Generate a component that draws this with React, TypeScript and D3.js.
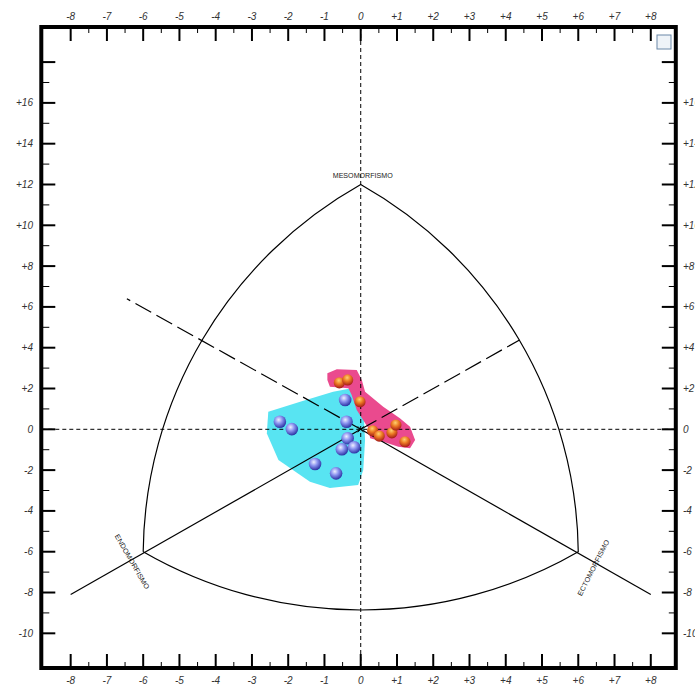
import React from "react";
import * as d3 from "d3";

// ---- data ----
const xMajorTicks = [-8, -7, -6, -5, -4, -3, -2, -1, 0, 1, 2, 3, 4, 5, 6, 7, 8];
const xMinorTicks = [-7.5, -6.5, -5.5, -4.5, -3.5, -2.5, -1.5, -0.5, 0.5, 1.5, 2.5, 3.5, 4.5, 5.5, 6.5, 7.5];
const yMajorTicks = [-10, -8, -6, -4, -2, 0, 2, 4, 6, 8, 10, 12, 14, 16, 18];
const yMinorTicks = [-9, -7, -5, -3, -1, 1, 3, 5, 7, 9, 11, 13, 15, 17];
const yLabelTicks = [-10, -8, -6, -4, -2, 0, 2, 4, 6, 8, 10, 12, 14, 16];

const apexNames = ["ENDOMORFISMO", "MESOMORFISMO", "ECTOMORFISMO"];
const apexX = [-6, 0, 6];
const apexY = [-6, 12, -6];

// blue group
const blueX = [-0.43, -0.39, -2.23, -1.9, -0.36, -0.52, -0.18, -1.26, -0.68];
const blueY = [1.44, 0.37, 0.37, 0.01, -0.44, -0.98, -0.88, -1.7, -2.16];
// orange group
const orangeX = [-0.59, -0.36, -0.02, 0.33, 0.51, 0.86, 0.97, 1.22];
const orangeY = [2.28, 2.42, 1.35, -0.07, -0.33, -0.17, 0.21, -0.61];

// hull areas
const cyanX = [-0.25, 0.06, 0.12, 0.07, -0.07, -0.85, -1.4, -2.27, -2.59, -2.55, -1.67, -0.76];
const cyanY = [2.01, 1.44, -0.52, -2.0, -2.73, -2.88, -2.57, -1.5, -0.2, 0.86, 1.35, 1.84];
const pinkX = [-0.92, -0.66, -0.11, 0.03, 0.12, 0.62, 1.08, 1.36, 1.5, 1.36, 1.04, 0.62, 0.26, 0.21, -0.11, -0.25, -0.34, -0.85, -0.92];
const pinkY = [2.75, 2.94, 2.91, 2.42, 1.84, 1.11, 0.54, 0.13, -0.52, -0.93, -0.85, -0.61, -0.44, 0.05, 0.95, 1.68, 2.01, 2.09, 2.42];

// reference axes: solid outer part, dashed inner part
const solidLineX1 = [-8, 8];
const solidLineY1 = [-8.1, -8.1];
const dashLineX2 = [4.38, -6.45];
const dashLineY2 = [4.38, 6.4];

const fmt = (v: number) => (v > 0 ? "+" + v : String(v));

export default function App() {
  const x = d3.scaleLinear().domain([-8.81, 8.69]).range([41.3, 675.8]);
  const y = d3.scaleLinear().domain([-11.7, 19.72]).range([668, 27]);
  const left = x(-8.81), right = x(8.69), top = y(19.72), bottom = y(-11.7);
  const x0 = x(0), y0 = y(0);

  const pts = apexX.map((v, i) => [x(v), y(apexY[i])] as [number, number]);
  const dist = (a: number[], b: number[]) => Math.hypot(a[0] - b[0], a[1] - b[1]);
  const r01 = dist(pts[0], pts[1]);
  const r12 = dist(pts[1], pts[2]);
  const r20 = dist(pts[2], pts[0]);
  const arcPath =
    `M${pts[0][0]},${pts[0][1]} A${r01},${r01} 0 0 1 ${pts[1][0]},${pts[1][1]} ` +
    `A${r12},${r12} 0 0 1 ${pts[2][0]},${pts[2][1]} ` +
    `A${r20},${r20} 0 0 1 ${pts[0][0]},${pts[0][1]}`;

  const lineGen = d3.line<[number, number]>().x((d) => x(d[0])).y((d) => y(d[1])).curve(d3.curveLinearClosed);
  const cyanPath = lineGen(cyanX.map((v, i) => [v, cyanY[i]] as [number, number])) || "";
  const pinkPath = lineGen(pinkX.map((v, i) => [v, pinkY[i]] as [number, number])) || "";

  const tickFont = { fontFamily: "'Liberation Sans', Arial, sans-serif", fontStyle: "italic" as const, fontSize: 10, fill: "#333" };
  const labelFont = { fontFamily: "'Liberation Sans', Arial, sans-serif", fontSize: 7, fill: "#222" };

  return (
    <svg width={695} height={688} style={{ position: "absolute", left: 0, top: 0, background: "#fff" }}>
      <defs>
        <radialGradient id="gBlue" cx="40%" cy="35%" r="65%">
          <stop offset="0%" stopColor="#eef0ff" />
          <stop offset="45%" stopColor="#8c94f0" />
          <stop offset="100%" stopColor="#2c34a4" />
        </radialGradient>
        <radialGradient id="gOrange" cx="45%" cy="30%" r="70%">
          <stop offset="0%" stopColor="#ffd070" />
          <stop offset="45%" stopColor="#ec7a24" />
          <stop offset="100%" stopColor="#a41818" />
        </radialGradient>
      </defs>

      {/* hull areas */}
      <path d={cyanPath} fill="#58e4f2" stroke="none" />
      <path d={pinkPath} fill="#ea4a8e" stroke="none" />

      {/* dotted axes */}
      <line x1={left} x2={right} y1={y0} y2={y0} stroke="#000" strokeWidth={1} strokeDasharray="4,3" />
      <line x1={x0} x2={x0} y1={top} y2={bottom} stroke="#000" strokeWidth={1} strokeDasharray="4,3" />

      {/* somatochart outline */}
      <path d={arcPath} fill="none" stroke="#000" strokeWidth={1.2} />

      {/* reference axes */}
      {solidLineX1.map((v, i) => (
        <g key={"ax" + i}>
          <line x1={x(v)} y1={y(solidLineY1[i])} x2={x0} y2={y0} stroke="#000" strokeWidth={1.2} />
          <line x1={x0} y1={y0} x2={x(dashLineX2[i])} y2={y(dashLineY2[i])} stroke="#000" strokeWidth={1.2} strokeDasharray="18,6" />
        </g>
      ))}

      {/* centre mark */}
      <path d={`M${x0 - 3},${y0 - 3}L${x0 + 3},${y0 + 3}M${x0 - 3},${y0 + 3}L${x0 + 3},${y0 - 3}`} stroke="#000" strokeWidth={0.8} />

      {/* apex labels */}
      <text x={pts[1][0] + 2} y={pts[1][1] - 6} textAnchor="middle" {...labelFont} textLength={60} lengthAdjust="spacingAndGlyphs">
        {apexNames[1]}
      </text>
      <text transform={`translate(${pts[0][0] - 11},${pts[0][1] + 10}) rotate(60)`} textAnchor="middle" dy={2.5} {...labelFont} textLength={62} lengthAdjust="spacingAndGlyphs">
        {apexNames[0]}
      </text>
      <text transform={`translate(${pts[2][0] + 15},${pts[2][1] + 16}) rotate(-63)`} textAnchor="middle" dy={2.5} {...labelFont} textLength={62} lengthAdjust="spacingAndGlyphs">
        {apexNames[2]}
      </text>

      {/* points */}
      {blueX.map((v, i) => (
        <circle key={"b" + i} cx={x(v)} cy={y(blueY[i])} r={6.3} fill="url(#gBlue)" />
      ))}
      {orangeX.map((v, i) => (
        <circle key={"o" + i} cx={x(v)} cy={y(orangeY[i])} r={5.6} fill="url(#gOrange)" />
      ))}

      {/* ticks */}
      {xMajorTicks.map((v) => (
        <g key={"xm" + v}>
          <line x1={x(v)} x2={x(v)} y1={top} y2={top + 14} stroke="#000" strokeWidth={2} />
          <line x1={x(v)} x2={x(v)} y1={bottom} y2={bottom - 14} stroke="#000" strokeWidth={2} />
          <text x={x(v)} y={20} textAnchor="middle" {...tickFont}>{fmt(v)}</text>
          <text x={x(v)} y={684} textAnchor="middle" {...tickFont}>{fmt(v)}</text>
        </g>
      ))}
      {xMinorTicks.map((v) => (
        <g key={"xn" + v}>
          <line x1={x(v)} x2={x(v)} y1={top} y2={top + 6} stroke="#000" strokeWidth={1} />
          <line x1={x(v)} x2={x(v)} y1={bottom} y2={bottom - 6} stroke="#000" strokeWidth={1} />
        </g>
      ))}
      {yMajorTicks.map((v) => (
        <g key={"ym" + v}>
          <line x1={left} x2={left + 14} y1={y(v)} y2={y(v)} stroke="#000" strokeWidth={2} />
          <line x1={right} x2={right - 14} y1={y(v)} y2={y(v)} stroke="#000" strokeWidth={2} />
        </g>
      ))}
      {yMinorTicks.map((v) => (
        <g key={"yn" + v}>
          <line x1={left} x2={left + 8} y1={y(v)} y2={y(v)} stroke="#000" strokeWidth={1} />
          <line x1={right} x2={right - 7} y1={y(v)} y2={y(v)} stroke="#000" strokeWidth={1} />
        </g>
      ))}
      {yLabelTicks.map((v) => (
        <g key={"yl" + v}>
          <text x={33} y={y(v) + 3.5} textAnchor="end" {...tickFont}>{fmt(v)}</text>
          <text x={683} y={y(v) + 3.5} textAnchor="start" {...tickFont}>{fmt(v)}</text>
        </g>
      ))}

      {/* frame */}
      <rect x={left} y={top} width={right - left} height={bottom - top} fill="none" stroke="#000" strokeWidth={4} />

      {/* legend box */}
      <rect x={657} y={35} width={14} height={14} fill="#eef3f8" stroke="#6a88a8" strokeWidth={1} />
    </svg>
  );
}
